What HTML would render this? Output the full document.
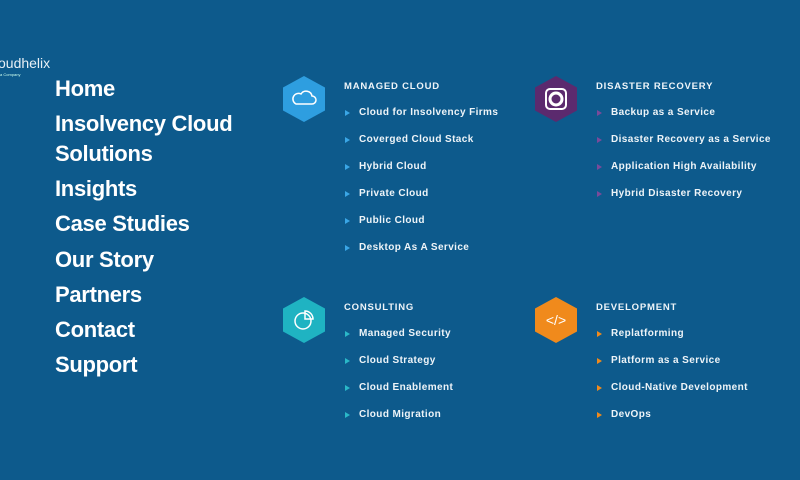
<!DOCTYPE html>
<html><head><style>
body{margin:0;width:800px;height:480px;background:#0d5a8c;overflow:hidden;position:relative;font-family:"Liberation Sans",sans-serif;color:#fff}
.logo{position:absolute;left:-2px;top:55px;font-size:14px;color:#e8f0f6}
.logo small{position:absolute;left:2px;top:17px;font-size:4px;color:#cfe}
.nav{position:absolute;left:55px;font-size:22px;font-weight:bold;line-height:22px;letter-spacing:-0.3px}
.h{position:absolute;font-size:9.5px;font-weight:bold;letter-spacing:0.8px;color:#eef4f8}
.i{position:absolute;font-size:10px;font-weight:bold;letter-spacing:0.4px;color:#eef4f8}
.a{position:absolute;width:0;height:0;border-left:5px solid;border-top:3px solid transparent;border-bottom:3px solid transparent}
svg{position:absolute}
</style></head><body>
<div class="logo">oudhelix<small>a Company</small></div>
<div class="nav" style="top:78px">Home</div>
<div class="nav" style="top:113px">Insolvency Cloud</div>
<div class="nav" style="top:143px">Solutions</div>
<div class="nav" style="top:178px">Insights</div>
<div class="nav" style="top:213px">Case Studies</div>
<div class="nav" style="top:249px">Our Story</div>
<div class="nav" style="top:284px">Partners</div>
<div class="nav" style="top:319px">Contact</div>
<div class="nav" style="top:354px">Support</div>

<svg style="left:283px;top:76px" width="42" height="46"><polygon points="21,0 42,11.5 42,34.5 21,46 0,34.5 0,11.5" fill="#2e9ee0"/><path d="M13,28 h16 a4,4 0 0 0 0,-8 a6,6 0 0 0 -11,-2 a5,5 0 0 0 -5,10z" fill="none" stroke="#fff" stroke-width="1.5"/></svg>
<svg style="left:535px;top:76px" width="42" height="46"><polygon points="21,0 42,11.5 42,34.5 21,46 0,34.5 0,11.5" fill="#5b2a6e"/><rect x="11" y="13" width="20" height="20" rx="4" fill="none" stroke="#fff" stroke-width="2"/><circle cx="21" cy="23" r="6" fill="none" stroke="#fff" stroke-width="3"/></svg>
<svg style="left:283px;top:297px" width="42" height="46"><polygon points="21,0 42,11.5 42,34.5 21,46 0,34.5 0,11.5" fill="#1fb3c2"/><circle cx="20" cy="24" r="8" fill="none" stroke="#fff" stroke-width="1.5"/><path d="M22,14 v8 h8 a8,8 0 0 0 -8,-8z" fill="none" stroke="#fff" stroke-width="1.5"/></svg>
<svg style="left:535px;top:297px" width="42" height="46"><polygon points="21,0 42,11.5 42,34.5 21,46 0,34.5 0,11.5" fill="#f08a1c"/><text x="21" y="28" font-family="Liberation Sans" font-size="14" fill="#fff" text-anchor="middle">&lt;/&gt;</text></svg>

<div class="h" style="left:344px;top:81px">MANAGED CLOUD</div>
<div class="h" style="left:596px;top:81px">DISASTER RECOVERY</div>
<div class="h" style="left:344px;top:302px">CONSULTING</div>
<div class="h" style="left:596px;top:302px">DEVELOPMENT</div>

<div class="a" style="left:345px;top:110px;color:#3aa6e6"></div><div class="i" style="left:359px;top:107px">Cloud for Insolvency Firms</div>
<div class="a" style="left:345px;top:137px;color:#3aa6e6"></div><div class="i" style="left:359px;top:134px">Coverged Cloud Stack</div>
<div class="a" style="left:345px;top:164px;color:#3aa6e6"></div><div class="i" style="left:359px;top:161px">Hybrid Cloud</div>
<div class="a" style="left:345px;top:191px;color:#3aa6e6"></div><div class="i" style="left:359px;top:188px">Private Cloud</div>
<div class="a" style="left:345px;top:218px;color:#3aa6e6"></div><div class="i" style="left:359px;top:215px">Public Cloud</div>
<div class="a" style="left:345px;top:245px;color:#3aa6e6"></div><div class="i" style="left:359px;top:242px">Desktop As A Service</div>

<div class="a" style="left:597px;top:110px;color:#7a4a9a"></div><div class="i" style="left:611px;top:107px">Backup as a Service</div>
<div class="a" style="left:597px;top:137px;color:#7a4a9a"></div><div class="i" style="left:611px;top:134px">Disaster Recovery as a Service</div>
<div class="a" style="left:597px;top:164px;color:#7a4a9a"></div><div class="i" style="left:611px;top:161px">Application High Availability</div>
<div class="a" style="left:597px;top:191px;color:#7a4a9a"></div><div class="i" style="left:611px;top:188px">Hybrid Disaster Recovery</div>

<div class="a" style="left:345px;top:331px;color:#2ab8c8"></div><div class="i" style="left:359px;top:328px">Managed Security</div>
<div class="a" style="left:345px;top:358px;color:#2ab8c8"></div><div class="i" style="left:359px;top:355px">Cloud Strategy</div>
<div class="a" style="left:345px;top:385px;color:#2ab8c8"></div><div class="i" style="left:359px;top:382px">Cloud Enablement</div>
<div class="a" style="left:345px;top:412px;color:#2ab8c8"></div><div class="i" style="left:359px;top:409px">Cloud Migration</div>

<div class="a" style="left:597px;top:331px;color:#f08a1c"></div><div class="i" style="left:611px;top:328px">Replatforming</div>
<div class="a" style="left:597px;top:358px;color:#f08a1c"></div><div class="i" style="left:611px;top:355px">Platform as a Service</div>
<div class="a" style="left:597px;top:385px;color:#f08a1c"></div><div class="i" style="left:611px;top:382px">Cloud-Native Development</div>
<div class="a" style="left:597px;top:412px;color:#f08a1c"></div><div class="i" style="left:611px;top:409px">DevOps</div>
</body></html>
